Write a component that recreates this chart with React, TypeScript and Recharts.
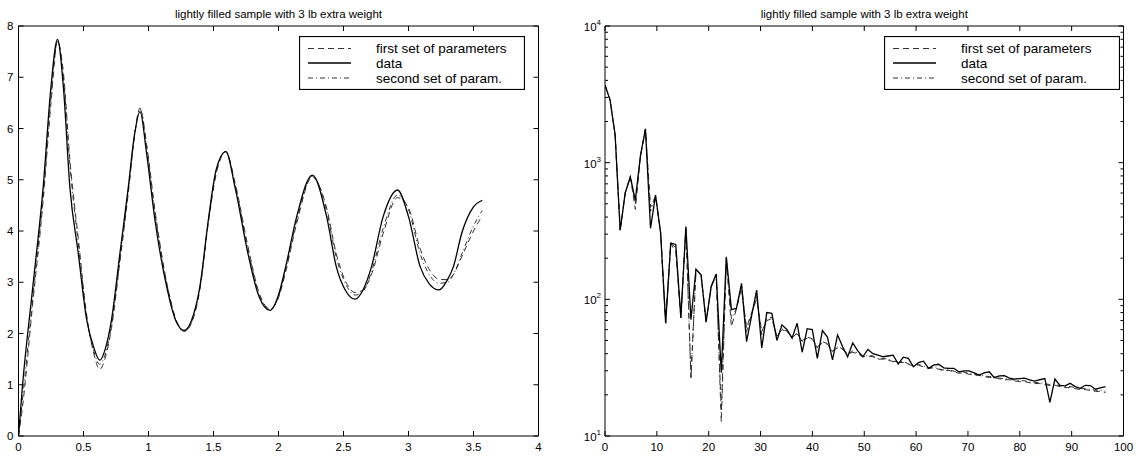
import React from "react";
import { LineChart, Line, XAxis, YAxis, Legend } from "recharts";

const FONT = '"Liberation Sans", Arial, Helvetica, sans-serif';
const TITLE = "lightly filled sample with 3 lb extra weight";

// ---- left panel: time response ----
const timeX = [
  0, 0.03, 0.11, 0.19, 0.25, 0.3, 0.345, 0.395, 0.46, 0.525,
  0.58, 0.625, 0.67, 0.715, 0.78, 0.845, 0.89, 0.935, 0.985, 1.05,
  1.14, 1.21, 1.275, 1.33, 1.395, 1.46, 1.52, 1.595, 1.665, 1.765,
  1.85, 1.935, 2.0, 2.055, 2.14, 2.26, 2.37, 2.445, 2.52, 2.59,
  2.65, 2.715, 2.805, 2.915, 3.0, 3.09, 3.16, 3.235, 3.3, 3.345,
  3.41, 3.5, 3.567,
];
const timeData = [
  0, 0.96, 2.91, 4.86, 6.82, 7.74, 6.82, 4.86, 3.56, 2.26,
  1.72, 1.48, 1.72, 2.26, 3.56, 4.86, 5.84, 6.33, 5.52, 4.21,
  2.91, 2.25, 2.06, 2.25, 2.91, 4.21, 5.19, 5.55, 4.86, 3.56,
  2.72, 2.45, 2.75, 3.3, 4.28, 5.09, 4.28, 3.3, 2.82, 2.67,
  2.85, 3.3, 4.28, 4.8, 4.28, 3.3, 2.97, 2.85, 3.05, 3.3,
  3.96, 4.47, 4.6,
];
const timeFirst = [
  0, 0.55, 2.6, 4.6, 6.5, 7.7, 7.1, 5.4, 3.85, 2.35,
  1.6, 1.3, 1.55, 2.1, 3.4, 4.75, 5.8, 6.4, 5.7, 4.4,
  3.0, 2.28, 2.04, 2.2, 2.85, 4.15, 5.1, 5.55, 4.95, 3.7,
  2.8, 2.48, 2.7, 3.2, 4.15, 5.05, 4.45, 3.55, 3.0, 2.8,
  2.85, 3.15, 3.95, 4.65, 4.45, 3.65, 3.25, 3.06, 3.05, 3.15,
  3.5, 4.0, 4.3,
];
const timeSecond = [
  0, 0.7, 2.7, 4.7, 6.6, 7.7, 7.0, 5.3, 3.75, 2.3,
  1.65, 1.4, 1.62, 2.15, 3.45, 4.8, 5.82, 6.38, 5.65, 4.35,
  2.98, 2.28, 2.05, 2.22, 2.88, 4.18, 5.15, 5.55, 4.92, 3.65,
  2.78, 2.47, 2.72, 3.25, 4.2, 5.07, 4.4, 3.48, 2.95, 2.75,
  2.82, 3.2, 4.05, 4.7, 4.42, 3.55, 3.15, 2.98, 3.0, 3.15,
  3.55, 4.1, 4.4,
];
const timeXTicks = [0, 0.5, 1, 1.5, 2, 2.5, 3, 3.5, 4];
const timeYTicks = [0, 1, 2, 3, 4, 5, 6, 7, 8];

// ---- right panel: spectrum ----
const freqX = [
  0, 0.98, 1.95, 2.93, 3.9, 4.88, 5.85, 6.83, 7.8, 8.78,
  9.75, 10.73, 11.7, 12.68, 13.65, 14.63, 15.6, 16.58, 17.55, 18.53,
  19.5, 20.48, 21.45, 22.43, 23.4, 24.38, 25.35, 26.33, 27.3, 28.28,
  29.25, 30.23, 31.2, 32.18, 33.15, 34.13, 35.1, 36.08, 37.05, 38.03,
  39, 39.98, 40.95, 41.93, 42.9, 43.88, 44.85, 45.83, 46.8, 47.78,
  48.75, 49.73, 50.7, 51.68, 52.65, 53.63, 54.6, 55.58, 56.55, 57.53,
  58.5, 59.48, 60.45, 61.43, 62.4, 63.38, 64.35, 65.33, 66.3, 67.28,
  68.25, 69.23, 70.2, 71.18, 72.15, 73.13, 74.1, 75.08, 76.05, 77.03,
  78, 78.98, 79.95, 80.93, 81.9, 82.88, 83.85, 84.83, 85.8, 86.78,
  87.75, 88.73, 89.7, 90.68, 91.65, 92.63, 93.6, 94.58, 95.55, 96.53,
];
const specData = [
  3700, 2870, 1600, 321, 600, 789, 533, 1120, 1770, 331,
  580, 304, 67, 258, 252, 73, 341, 71, 166, 151,
  68, 125, 153, 29, 205, 84, 86, 131, 49, 76,
  117, 44, 80, 79, 50, 65, 60, 52, 67, 41,
  61, 60, 37, 59, 53, 36, 55, 45, 38, 48,
  42, 38, 43, 40, 39, 38, 38.5, 39, 33.6, 37.7,
  37, 32.1, 34.5, 35.3, 31.3, 33, 33.5, 31.5, 31.3, 31.3,
  29.5, 30, 30, 29, 27.9, 29, 29.5, 26.7, 27.5, 27.6,
  26.5, 26.1, 26.3, 26.5, 25.7, 25.2, 25.8, 26.3, 17.6, 26.1,
  23.5, 23.3, 24.3, 23, 22.3, 23.5, 23.4, 22, 22.5, 23,
];
const specFirst = [
  3700, 2870, 1600, 321, 600, 789, 455, 1100, 1760, 470,
  570, 310, 68, 255, 223, 74, 330, 27, 165, 150,
  70, 122, 150, 15, 195, 63, 85, 120, 62, 80,
  100, 58, 70, 72, 54, 60, 58, 53, 56, 50,
  52, 51, 45, 48, 47, 42, 44, 43, 40, 41,
  40, 38, 38.5, 38, 36.5, 36.5, 36, 35, 34.5, 34.5,
  33.5, 32.5, 33, 32, 31.2, 31.5, 30.8, 30, 30.2, 29.5,
  28.8, 29, 28.3, 27.8, 27.8, 27.2, 26.8, 26.8, 26.2, 25.8,
  25.8, 25.3, 25, 25, 24.5, 24.2, 24.2, 23.8, 23.4, 23.5,
  23, 22.6, 22.6, 22.2, 21.9, 21.9, 21.5, 21.2, 21.2, 20.8,
];
const specSecond = [
  3700, 2870, 1600, 321, 600, 789, 500, 1110, 1765, 440,
  575, 305, 67, 256, 240, 73, 335, 26, 165, 150,
  69, 124, 152, 12.5, 200, 72, 86, 125, 58, 78,
  105, 55, 72, 74, 53, 61, 58.5, 52, 57, 49,
  53, 51.5, 44, 49, 47.5, 41.5, 45, 43.5, 39.5, 42,
  40.5, 38, 39, 38.5, 36.8, 37, 36.5, 35.2, 35, 35,
  33.8, 33, 33.5, 32.3, 31.6, 32, 31, 30.4, 30.6, 29.8,
  29.2, 29.4, 28.6, 28.2, 28.2, 27.5, 27.2, 27.2, 26.5, 26.2,
  26.2, 25.6, 25.4, 25.4, 24.8, 24.6, 24.6, 24.1, 23.8, 23.9,
  23.3, 23, 23, 22.6, 22.3, 22.3, 21.9, 21.6, 21.6, 21.3,
];
const freqXTicks = [0, 10, 20, 30, 40, 50, 60, 70, 80, 90, 100];
const specYTicks = [
  10, 20, 30, 40, 50, 60, 70, 80, 90,
  100, 200, 300, 400, 500, 600, 700, 800, 900,
  1000, 2000, 3000, 4000, 5000, 6000, 7000, 8000, 9000, 10000,
];

const SERIES = [
  { key: "first", name: "first set of parameters", dash: "6 4", color: "#333", width: 1 },
  { key: "data", name: "data", dash: undefined, color: "#000", width: 1.3 },
  { key: "second", name: "second set of param.", dash: "5 3 1 3", color: "#333", width: 1 },
];
// draw the measured curve last so it sits on top
const DRAW_ORDER = ["first", "second", "data"];

const timeRows = timeX.map((x, i) => ({
  x,
  data: timeData[i],
  first: timeFirst[i],
  second: timeSecond[i],
}));
const specRows = freqX.map((x, i) => ({
  x,
  data: specData[i],
  first: specFirst[i],
  second: specSecond[i],
}));

const isDecade = (v: number) =>
  Math.abs(Math.log10(v) - Math.round(Math.log10(v))) < 1e-6;

function EdgeTick(props: any) {
  const { x, y, payload, side, log, label } = props;
  const v = payload.value;
  const major = !log || isDecade(v);
  const len = major ? 5 : 3;
  let line;
  if (side === "bottom") line = <line x1={x} y1={y} x2={x} y2={y - len} stroke="#000" />;
  else if (side === "top") line = <line x1={x} y1={y} x2={x} y2={y + len} stroke="#000" />;
  else if (side === "left") line = <line x1={x} y1={y} x2={x + len} y2={y} stroke="#000" />;
  else line = <line x1={x} y1={y} x2={x - len} y2={y} stroke="#000" />;

  let text = null;
  if (label && side === "bottom") {
    text = (
      <text x={x} y={y + 15} textAnchor="middle" fontSize={11.5} fontFamily={FONT} fill="#000">
        {String(v)}
      </text>
    );
  } else if (label && side === "left" && !log) {
    text = (
      <text x={x - 5} y={y + 4} textAnchor="end" fontSize={11.5} fontFamily={FONT} fill="#000">
        {String(v)}
      </text>
    );
  } else if (label && side === "left" && log && major) {
    text = (
      <text x={x - 4} y={y + 5} textAnchor="end" fontSize={11.5} fontFamily={FONT} fill="#000">
        <tspan>10</tspan>
        <tspan dy={-6} fontSize={8}>
          {String(Math.round(Math.log10(v)))}
        </tspan>
      </text>
    );
  }
  return (
    <g>
      {line}
      {text}
    </g>
  );
}

function LegendBox({ width }: { width: number }) {
  const rows = [
    { s: SERIES[0], y: 12.5 },
    { s: SERIES[1], y: 27 },
    { s: SERIES[2], y: 42 },
  ];
  return (
    <svg width={width} height={54} style={{ display: "block" }}>
      <rect x={0.5} y={0.5} width={width - 1} height={53} fill="#fff" stroke="#000" strokeWidth={1.2} />
      {rows.map((r) => (
        <g key={r.s.key}>
          <line
            x1={9}
            x2={52}
            y1={r.y}
            y2={r.y}
            stroke={r.s.color}
            strokeWidth={r.s.width}
            strokeDasharray={r.s.dash}
          />
          <text x={77} y={r.y + 4.5} fontSize={13.5} fontFamily={FONT} fill="#000">
            {r.s.name}
          </text>
        </g>
      ))}
    </svg>
  );
}

const axisLine = { stroke: "#000", strokeWidth: 1 };

function Title({ cx }: { cx: number }) {
  return (
    <div
      style={{
        position: "absolute",
        left: cx - 150,
        width: 300,
        top: 7,
        textAlign: "center",
        fontFamily: FONT,
        fontSize: 11.5,
        lineHeight: "14px",
        color: "#000",
      }}
    >
      {TITLE}
    </div>
  );
}

// every axis is 1px thick (Recharts skips axes of size 0); margins absorb it
const edgeAxis = {
  allowDataOverflow: true,
  interval: 0 as const,
  tickSize: 0,
  tickMargin: 0,
  tickLine: false,
  axisLine,
};

export default function App() {
  return (
    <div
      style={{
        position: "absolute",
        left: 0,
        top: 0,
        width: 1136,
        height: 458,
        background: "#fff",
        overflow: "hidden",
      }}
    >
      <Title cx={278.5} />
      <Title cx={864.3} />

      <div style={{ position: "absolute", left: 0, top: 0 }}>
        <LineChart
          width={560}
          height={458}
          data={timeRows}
          margin={{ top: 25, right: 20.5, bottom: 21, left: 17.5 }}
        >
          <XAxis
            {...edgeAxis}
            dataKey="x"
            type="number"
            domain={[0, 4]}
            ticks={timeXTicks}
            height={1}
            tick={(p: any) => <EdgeTick {...p} side="bottom" label />}
          />
          <XAxis
            {...edgeAxis}
            xAxisId="top"
            orientation="top"
            dataKey="x"
            type="number"
            domain={[0, 4]}
            ticks={timeXTicks}
            height={1}
            tick={(p: any) => <EdgeTick {...p} side="top" />}
          />
          <YAxis
            {...edgeAxis}
            type="number"
            domain={[0, 8]}
            ticks={timeYTicks}
            width={1}
            tick={(p: any) => <EdgeTick {...p} side="left" label />}
          />
          <YAxis
            {...edgeAxis}
            yAxisId="right"
            orientation="right"
            type="number"
            domain={[0, 8]}
            ticks={timeYTicks}
            width={1}
            tick={(p: any) => <EdgeTick {...p} side="right" />}
          />
          {DRAW_ORDER.map((k) => {
            const s = SERIES.find((q) => q.key === k)!;
            return (
              <Line
                key={k}
                type="monotone"
                dataKey={k}
                name={s.name}
                stroke={s.color}
                strokeWidth={s.width}
                strokeDasharray={s.dash}
                dot={false}
                activeDot={false}
                isAnimationActive={false}
              />
            );
          })}
          <Legend
            layout="horizontal"
            verticalAlign="middle"
            align="center"
            wrapperStyle={{ left: 299, top: 36, width: 226, height: 54 }}
            content={() => <LegendBox width={226} />}
          />
        </LineChart>
      </div>

      <div style={{ position: "absolute", left: 560, top: 0 }}>
        <LineChart
          width={576}
          height={458}
          data={specRows}
          margin={{ top: 25, right: 11.5, bottom: 21, left: 44 }}
        >
          <XAxis
            {...edgeAxis}
            dataKey="x"
            type="number"
            domain={[0, 100]}
            ticks={freqXTicks}
            height={1}
            tick={(p: any) => <EdgeTick {...p} side="bottom" label />}
          />
          <XAxis
            {...edgeAxis}
            xAxisId="top"
            orientation="top"
            dataKey="x"
            type="number"
            domain={[0, 100]}
            ticks={freqXTicks}
            height={1}
            tick={(p: any) => <EdgeTick {...p} side="top" />}
          />
          <YAxis
            {...edgeAxis}
            type="number"
            scale="log"
            domain={[10, 10000]}
            ticks={specYTicks}
            width={1}
            tick={(p: any) => <EdgeTick {...p} side="left" log label />}
          />
          <YAxis
            {...edgeAxis}
            yAxisId="right"
            orientation="right"
            type="number"
            scale="log"
            domain={[10, 10000]}
            ticks={specYTicks}
            width={1}
            tick={(p: any) => <EdgeTick {...p} side="right" log />}
          />
          {DRAW_ORDER.map((k) => {
            const s = SERIES.find((q) => q.key === k)!;
            return (
              <Line
                key={k}
                type="linear"
                dataKey={k}
                name={s.name}
                stroke={s.color}
                strokeWidth={s.width}
                strokeDasharray={s.dash}
                dot={false}
                activeDot={false}
                isAnimationActive={false}
              />
            );
          })}
          <Legend
            layout="horizontal"
            verticalAlign="middle"
            align="center"
            wrapperStyle={{ left: 324, top: 36, width: 236, height: 54 }}
            content={() => <LegendBox width={236} />}
          />
        </LineChart>
      </div>
    </div>
  );
}
